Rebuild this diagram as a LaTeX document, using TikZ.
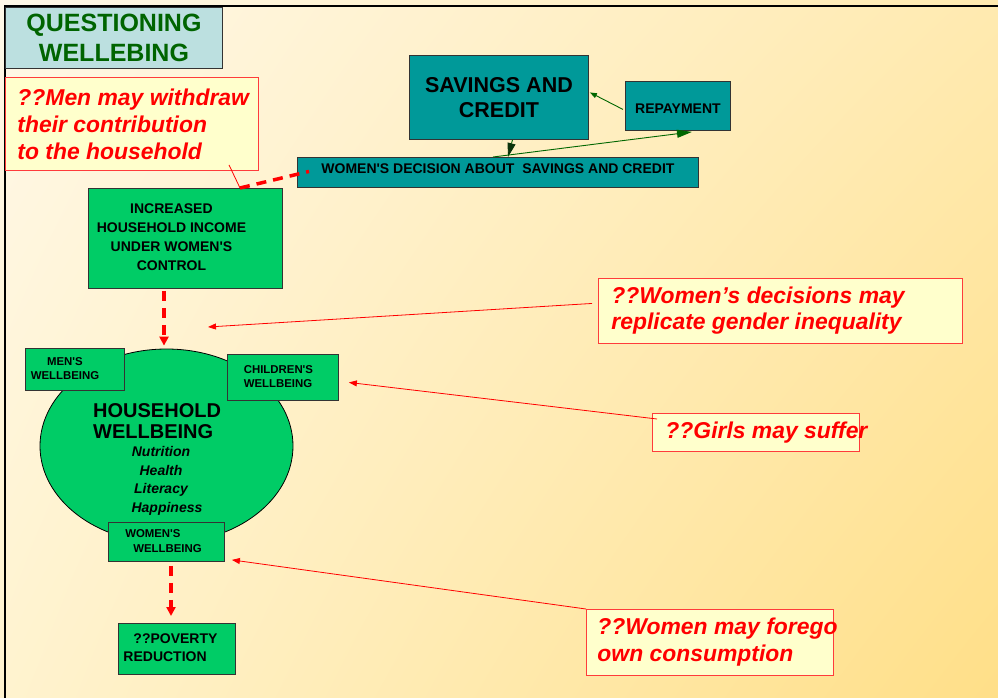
\documentclass[tikz,border=0pt]{standalone}
\usepackage{fontspec}
\setmainfont{Liberation Sans}[Ligatures=TeXOff]
\usetikzlibrary{arrows.meta,shapes.geometric,calc,shadings}

\definecolor{bgul}{HTML}{FFF8E8}
\definecolor{bgur}{HTML}{FFEAB0}
\definecolor{bgll}{HTML}{FFF3CF}
\definecolor{bglr}{HTML}{FFDF88}
\definecolor{titlefill}{HTML}{BCE0E0}
\definecolor{titleink}{HTML}{006400}
\definecolor{tealbox}{HTML}{009999}
\definecolor{greenbox}{HTML}{00CC66}
\definecolor{notefill}{HTML}{FFFFCC}
\definecolor{noteline}{HTML}{FF3B3B}
\definecolor{noteink}{HTML}{FF0000}
\definecolor{flowgreen}{HTML}{006600}
\definecolor{tipdark}{HTML}{0B330B}
\definecolor{edge}{HTML}{333333}

\newcommand{\fsz}[2]{\fontsize{#1}{#2}\selectfont}

\tikzset{
  box/.style={draw=edge, line width=0.9pt, rectangle, inner sep=0pt, anchor=north west},
  tealnode/.style={box, fill=tealbox},
  greennode/.style={box, fill=greenbox},
  smalltext/.style={font=\fsz{11.4}{14.5}\bfseries},
  note/.style={draw=noteline, line width=0.9pt, fill=notefill, text=noteink, rectangle,
    anchor=north west, inner ysep=0pt, align=left, font=\fsz{22.9}{27}\bfseries\itshape},
  reddash/.style={draw=red, line width=3.5pt, dash pattern=on 10pt off 7pt},
  redflow/.style={reddash, -{Triangle[length=9pt,width=9pt]}},
  thinred/.style={draw=red, line width=0.8pt},
  pointer/.style={thinred, -{Triangle[length=8pt,width=6pt]}},
  greenflow/.style={draw=flowgreen, line width=0.9pt},
}

\begin{document}
\begin{tikzpicture}[x=1pt,y=-1pt]
\useasboundingbox (0,0) rectangle (998,698);

% paper background and frame
\shade[upper left=bgul, upper right=bgur, lower left=bgll, lower right=bglr]
  (0,0) rectangle (998,698);
\draw[line width=1.8pt, black] (5,698) -- (5,6) -- (998,6);

% household wellbeing
\node[ellipse, draw=black, line width=0.8pt, fill=greenbox, minimum width=253pt,
  minimum height=194pt, inner sep=0pt] (hw) at (166.5,446) {};
\node[anchor=west, align=left, inner sep=0pt, font=\fsz{20}{21}\bfseries]
  (hwtitle) at (93,421.5) {HOUSEHOLD\\WELLBEING};
\node[align=center, inner sep=0pt, font=\fsz{14}{18.7}\bfseries\itshape]
  (hwlist) at (161,481) {Nutrition\\Health\\Literacy\\\hspace*{12pt}Happiness};

% title
\node[box, fill=titlefill, text=titleink, minimum width=217pt, minimum height=61pt,
  align=center, font=\fsz{25}{30}\bfseries] (title) at (5,7) {QUESTIONING\\WELLEBING};

% savings and credit cycle
\node[tealnode, minimum width=179pt, minimum height=84pt, align=center,
  font=\fsz{21.5}{24.5}\bfseries] (sav) at (409,55) {SAVINGS AND\\CREDIT};
\node[tealnode, minimum width=105pt, minimum height=49pt, text height=15pt,
  text depth=0pt, font=\fsz{14}{16}\bfseries] (rep) at (625,81) {REPAYMENT};
\node[tealnode, minimum width=401pt, minimum height=30pt, text height=10pt,
  text depth=8pt, font=\fsz{14}{16}\bfseries] (dec) at (297,157)
  {WOMEN'S DECISION ABOUT\ \ SAVINGS AND CREDIT};

% income and wellbeing boxes
\node[greennode, minimum width=194pt, minimum height=100pt, font=\fsz{14}{19}\bfseries]
  (inc) at (88,188)
  {\begin{tabular}{@{}c@{}}INCREASED\\HOUSEHOLD INCOME\\UNDER WOMEN'S\\CONTROL\end{tabular}\hspace*{28pt}};
\node[greennode, smalltext, minimum width=99pt, minimum height=42pt] (men) at (25,348)
  {\begin{tabular}{@{}c@{}}MEN'S\\WELLBEING\end{tabular}\hspace*{20pt}};
\node[greennode, smalltext, minimum width=111pt, minimum height=46pt] (kid) at (227,354)
  {\begin{tabular}{@{}l@{}}CHILDREN'S\\WELLBEING\end{tabular}\hspace*{9pt}};
\node[greennode, smalltext, minimum width=116pt, minimum height=39pt] (ww) at (108,522)
  {\begin{tabular}{@{}l@{}}WOMEN'S\\\hspace*{8pt}WELLBEING\end{tabular}\hspace*{6pt}};
\node[greennode, minimum width=117pt, minimum height=51pt, font=\fsz{14}{18}\bfseries]
  (pov) at (118,623)
  {\begin{tabular}{@{}l@{}}\hspace*{10pt}??POVERTY\\REDUCTION\end{tabular}\hspace*{13pt}};

% questioning notes
\node[note, inner xsep=12pt, minimum height=93pt] (menq) at (5,77)
  {\makebox[229pt][l]{??Men may withdraw}\\their contribution\\to the household};
\node[note, inner xsep=13pt, minimum height=65pt, font=\fsz{22.9}{26}\bfseries\itshape]
  (wdq) at (598,278)
  {\makebox[338pt][l]{??Women’s decisions may}\\replicate gender inequality};
\node[note, inner xsep=13pt, minimum height=38pt] (girlsq) at (652,413)
  {\makebox[181pt][l]{??Girls may suffer}};
\node[note, inner xsep=11pt, minimum height=66pt] (foreq) at (586,609)
  {\makebox[225pt][l]{??Women may forego}\\own consumption};

% connectors
\coordinate (gapmark) at (208,327);
\draw[thinred] ($(menq.south west)+(224,-6)$) -- ($(inc.north west)+(152,0)$);
\draw[reddash] ($(inc.north west)+(152,0)$) -- ($(dec.west)+(12,-1)$);
\draw[redflow] ($(inc.south west)+(76,2)$) -- ($(hw.north)+(-2.5,-3)$);
\draw[redflow] ($(ww.south west)+(63,4)$) -- ($(pov.north west)+(53,-7)$);
\draw[pointer] ($(wdq.west)+(-6,-7.5)$) -- (gapmark);
\draw[pointer] ($(girlsq.north west)+(5,6)$) -- ($(kid.east)+(10,5)$);
\draw[pointer] (foreq.north west) -- ($(ww.south east)+(7,-2)$);
\draw[greenflow, -{Triangle[length=7pt,width=5pt]}]
  ($(rep.west)+(-2,3.5)$) -- ($(sav.east)+(1,-5)$);
\draw[greenflow, -{Triangle[length=14pt,width=8pt,color=tipdark]}]
  ($(sav.south)+(13.5,0)$) -- ($(dec.north west)+(211,0)$);
\draw[greenflow, -{Triangle[length=15pt,width=8pt]}]
  ($(dec.north west)+(196,0)$) -- ($(rep.south west)+(67,1)$);
\end{tikzpicture}
\end{document}
